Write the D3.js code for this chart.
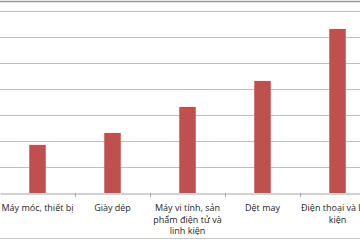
<!DOCTYPE html>
<html>
<head>
<meta charset="utf-8">
<script src="https://cdn.jsdelivr.net/npm/d3@7"></script>
<style>
body { margin: 0; background: #fff; }
</style>
</head>
<body>
<svg id="chart" width="360" height="240"></svg>
<script>
// categories and values (gridline units, axis labels not shown in source)
var categories = ["Máy móc, thiết bị", "Giày dép", "Máy vi tính, sản phẩm điện tử và linh kiện", "Dệt may", "Điện thoại và linh kiện"];
var labelLines = [["Máy móc, thiết bị"], ["Giày dép"], ["Máy vi tính, sản", "phẩm điện tử và", "linh kiện"], ["Dệt may"], ["Điện thoại và linh", "kiện"]];
var values = [1.85, 2.31, 3.31, 4.31, 6.31];
var yTicks = [0, 1, 2, 3, 4, 5, 6, 7];

var svg = d3.select("#chart");
var width = 360, height = 240;
var baseY = 193;

var x = d3.scaleBand()
  .domain(categories)
  .range([0, 375])
  .paddingInner(0.78)
  .paddingOuter(0.39);

var y = d3.scaleLinear()
  .domain([0, 7])
  .range([baseY, 11]);

// frame lines top and bottom
svg.append("line").attr("x1", 0).attr("x2", width).attr("y1", 1.5).attr("y2", 1.5)
  .attr("stroke", "#9a9a9a").attr("stroke-width", 1.5);
svg.append("line").attr("x1", 0).attr("x2", width).attr("y1", 238.5).attr("y2", 238.5)
  .attr("stroke", "#c8c8c8").attr("stroke-width", 1);

// gridlines
svg.append("g")
  .selectAll("line")
  .data(yTicks.slice(1))
  .enter()
  .append("line")
  .attr("x1", 0).attr("x2", width)
  .attr("y1", d => Math.round(y(d)) + 0.5)
  .attr("y2", d => Math.round(y(d)) + 0.5)
  .attr("stroke", "#bfbfbf")
  .attr("stroke-width", 1.2);

// bars
svg.append("g")
  .selectAll("rect")
  .data(values)
  .enter()
  .append("rect")
  .attr("x", (d, i) => x(categories[i]))
  .attr("y", d => y(d))
  .attr("width", x.bandwidth())
  .attr("height", d => baseY - y(d))
  .attr("fill", "#c0504d");

// x axis
var xAxis = svg.append("g")
  .attr("transform", "translate(0," + (baseY + 0.5) + ")")
  .call(d3.axisBottom(x).tickSize(0).tickFormat(""));
xAxis.select(".domain").attr("stroke", "#a6a6a6").attr("stroke-width", 1);

// tick marks at category boundaries
svg.append("g")
  .selectAll("line")
  .data(categories.slice(1))
  .enter()
  .append("line")
  .attr("x1", d => x(d) - x.step() * x.paddingInner() / 2 + 0.5)
  .attr("x2", d => x(d) - x.step() * x.paddingInner() / 2 + 0.5)
  .attr("y1", baseY)
  .attr("y2", baseY + 4)
  .attr("stroke", "#a6a6a6");

// category labels
var labels = svg.append("g")
  .attr("font-family", "'Open Sans', sans-serif")
  .attr("font-size", 9)
  .attr("fill", "#262626")
  .attr("text-anchor", "middle");

labelLines.forEach(function(lines, i) {
  var t = labels.append("text")
    .attr("x", x(categories[i]) + x.bandwidth() / 2)
    .attr("y", 211);
  lines.forEach(function(s, j) {
    t.append("tspan")
      .attr("x", x(categories[i]) + x.bandwidth() / 2)
      .attr("dy", j === 0 ? 0 : 11.5)
      .text(s);
  });
});
</script>
</body>
</html>
